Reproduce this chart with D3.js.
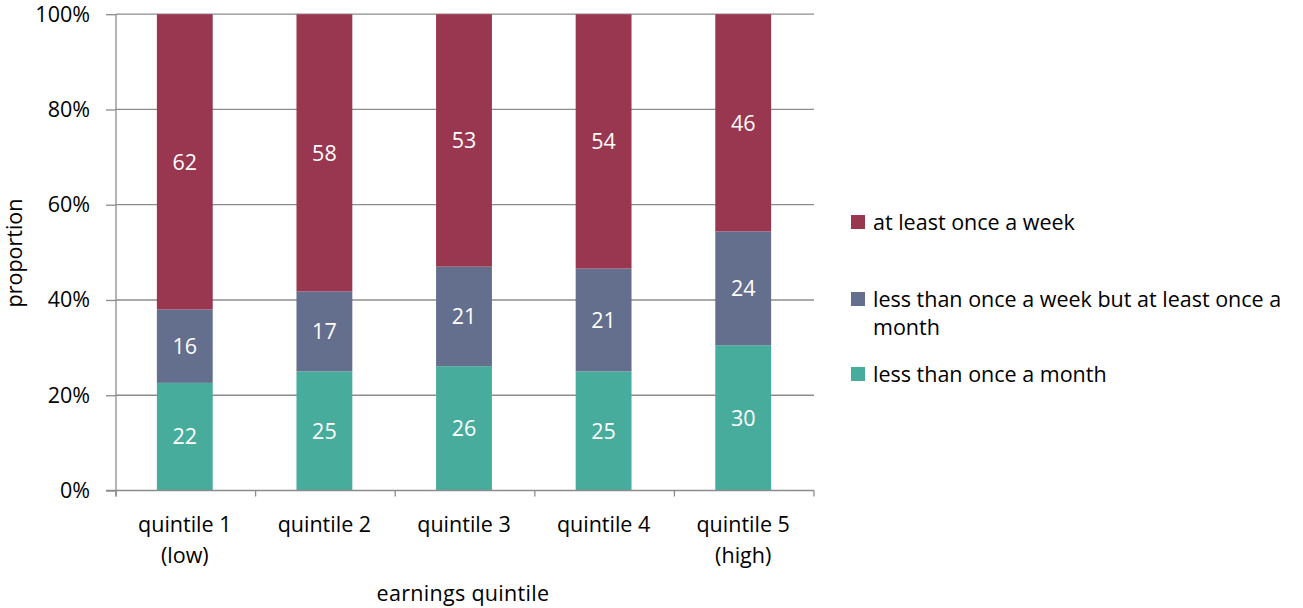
<!DOCTYPE html>
<html>
<head>
<meta charset="utf-8">
<script src="https://cdn.jsdelivr.net/npm/d3@7"></script>
<style>
  html, body { margin: 0; padding: 0; background: #fff; }
  svg { display: block; }
  text { font-family: "Open Sans", "Noto Sans", sans-serif; }
</style>
</head>
<body>
<svg id="chart" width="1303" height="608"></svg>
<script>
// ---- data ----
const categories = [["quintile 1", "(low)"], ["quintile 2"], ["quintile 3"], ["quintile 4"], ["quintile 5", "(high)"]];
const seriesNames = ["less than once a month", "less than once a week but at least once a month", "at least once a week"];
const lessThanMonthly = [22.6, 25.0, 26.1, 25.0, 30.5];
const weeklyToMonthly = [15.4, 16.8, 20.9, 21.6, 23.9];
const atLeastWeekly = [62.0, 58.2, 53.0, 53.4, 45.6];
const lessThanMonthlyLabels = ["22", "25", "26", "25", "30"];
const weeklyToMonthlyLabels = ["16", "17", "21", "21", "24"];
const atLeastWeeklyLabels = ["62", "58", "53", "54", "46"];
const yTicks = [0, 0.2, 0.4, 0.6, 0.8, 1.0];
const colors = ["#48ac9d", "#646e8d", "#993750"];

// ---- layout ----
const svg = d3.select("#chart");
const plotLeft = 116, plotRight = 814, plotTop = 14.2, plotBottom = 490.5;
const FS = 21.5;

const seriesValues = [lessThanMonthly, weeklyToMonthly, atLeastWeekly];
const seriesLabels = [lessThanMonthlyLabels, weeklyToMonthlyLabels, atLeastWeeklyLabels];
const rows = categories.map((c, i) => {
  const o = { key: i };
  seriesValues.forEach((s, j) => o["s" + j] = s[i]);
  return o;
});
const keys = ["s0", "s1", "s2"];
const stacked = d3.stack().keys(keys).offset(d3.stackOffsetExpand)(rows);

const x = d3.scaleBand().domain(categories.map((c, i) => i)).range([plotLeft - 1, plotRight - 1]).paddingInner(0.6).paddingOuter(0.3);
const xBound = d3.scaleLinear().domain([0, categories.length]).range([plotLeft, plotRight]);
const y = d3.scaleLinear().domain([0, 1]).range([plotBottom, plotTop]);

// gridlines
svg.append("g").selectAll("line").data(yTicks.filter(t => t > 0)).join("line")
  .attr("x1", plotLeft).attr("x2", plotRight)
  .attr("y1", d => y(d)).attr("y2", d => y(d))
  .attr("stroke", "#8c8c8c").attr("stroke-width", 1.3);

// bars
const groups = svg.append("g").selectAll("g").data(stacked).join("g")
  .attr("fill", (d, i) => colors[i]);
groups.selectAll("rect").data(d => d).join("rect")
  .attr("x", (d, i) => x(i))
  .attr("width", x.bandwidth())
  .attr("y", d => y(d[1]))
  .attr("height", d => y(d[0]) - y(d[1]));

// data labels
stacked.forEach((s, j) => {
  svg.append("g").selectAll("text").data(s).join("text")
    .attr("x", (d, i) => x(i) + x.bandwidth() / 2)
    .attr("y", d => (y(d[0]) + y(d[1])) / 2)
    .attr("dy", "0.36em")
    .attr("text-anchor", "middle")
    .attr("fill", "#ffffff")
    .attr("font-size", FS)
    .text((d, i) => seriesLabels[j][i]);
});

// y axis
const yAxis = d3.axisLeft(y).tickValues(yTicks).tickFormat(d3.format(".0%")).tickSize(10).tickPadding(16);
const gy = svg.append("g").attr("transform", `translate(${plotLeft},0)`).call(yAxis);
gy.select(".domain").remove();
gy.selectAll(".tick line").attr("stroke", "#8c8c8c").attr("stroke-width", 1.3);
gy.selectAll(".tick text").attr("font-size", FS).attr("fill", "#000").attr("font-family", '"Open Sans", sans-serif');
svg.append("line").attr("x1", plotLeft).attr("x2", plotLeft).attr("y1", plotTop).attr("y2", plotBottom + 6)
  .attr("stroke", "#8c8c8c").attr("stroke-width", 1.3);

// x axis
svg.append("line").attr("x1", plotLeft - 10).attr("x2", plotRight).attr("y1", plotBottom).attr("y2", plotBottom)
  .attr("stroke", "#8c8c8c").attr("stroke-width", 1.3);
svg.append("g").selectAll("line").data(d3.range(categories.length + 1)).join("line")
  .attr("x1", d => xBound(d)).attr("x2", d => xBound(d))
  .attr("y1", plotBottom).attr("y2", plotBottom + 6)
  .attr("stroke", "#8c8c8c").attr("stroke-width", 1.3);

const xl = svg.append("g").selectAll("text").data(categories).join("text")
  .attr("x", (d, i) => x(i) + x.bandwidth() / 2)
  .attr("y", 532)
  .attr("text-anchor", "middle")
  .attr("font-size", FS)
  .attr("fill", "#000");
xl.each(function(d) {
  const t = d3.select(this);
  d.forEach((line, k) => t.append("tspan").attr("x", t.attr("x")).attr("dy", k === 0 ? 0 : 31).text(line));
});

// axis titles
svg.append("text").attr("x", 463).attr("y", 601).attr("text-anchor", "middle")
  .attr("font-size", FS).attr("fill", "#000").attr("letter-spacing", 0.3).text("earnings quintile");
svg.append("text").attr("transform", "translate(22,253) rotate(-90)").attr("text-anchor", "middle")
  .attr("font-size", FS).attr("fill", "#000").text("proportion");

// legend
const legendItems = [
  { lines: ["at least once a week"], color: colors[2], y: 222 },
  { lines: ["less than once a week but at least once a", "month"], color: colors[1], y: 299 },
  { lines: ["less than once a month"], color: colors[0], y: 374 }
];
const lg = svg.append("g").selectAll("g").data(legendItems).join("g");
lg.append("rect").attr("x", 851).attr("y", d => d.y - 7).attr("width", 14).attr("height", 14).attr("fill", d => d.color);
lg.append("text").attr("x", 873).attr("y", d => d.y)
  .attr("font-size", FS).attr("fill", "#000")
  .each(function(d) {
    const t = d3.select(this);
    d.lines.forEach((line, k) => t.append("tspan").attr("x", 873).attr("dy", k === 0 ? "0.36em" : 28).text(line));
  });
</script>
</body>
</html>
